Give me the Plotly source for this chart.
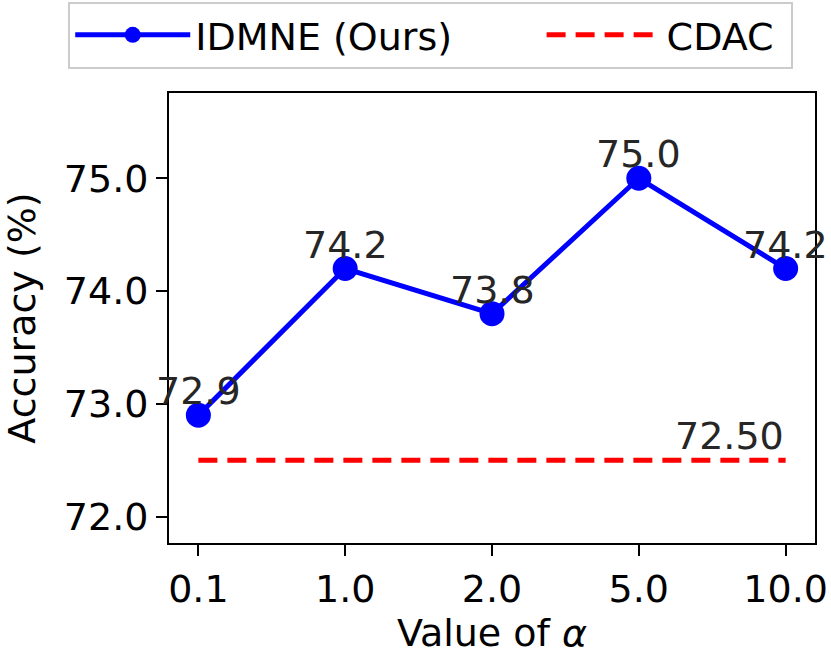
import plotly.graph_objects as go

alpha_labels = ["0.1", "1.0", "2.0", "5.0", "10.0"]
idmne_acc = [72.9, 74.2, 73.8, 75.0, 74.2]
cdac_acc = [72.5, 72.5, 72.5, 72.5, 72.5]
y_ticks = [72.0, 73.0, 74.0, 75.0]

FONT = "DejaVu Sans"
FS = 38

fig = go.Figure()
fig.add_trace(go.Scatter(
    x=alpha_labels, y=idmne_acc, mode="lines+markers",
    name="IDMNE (Ours)" + "&nbsp;" * 7,
    line=dict(color="#0000ff", width=5), marker=dict(color="#0000ff", size=25),
))
fig.add_trace(go.Scatter(
    x=alpha_labels, y=cdac_acc, mode="lines", name="CDAC&nbsp;",
    line=dict(color="#ff0000", width=5, dash="19px,10px"),
))

for i, v in enumerate(idmne_acc):
    fig.add_annotation(x=i, y=v, text=f"{v:.1f}", showarrow=False,
                       xanchor="center", yanchor="bottom",
                       font=dict(family=FONT, size=FS, color="#262626"))
fig.add_annotation(x=len(alpha_labels) - 1, y=cdac_acc[-1], text=f"{cdac_acc[-1]:.2f}",
                   showarrow=False, xanchor="right", yanchor="bottom",
                   font=dict(family=FONT, size=FS, color="#262626"))

axis_common = dict(showline=True, linecolor="black", linewidth=2, mirror=True,
                   ticks="outside", ticklen=11, tickwidth=2, tickcolor="black",
                   showgrid=False, zeroline=False, automargin=False,
                   tickfont=dict(family=FONT, size=FS, color="black"))

fig.update_layout(
    width=831, height=662,
    margin=dict(l=169, r=16, t=93, b=119, autoexpand=False),
    paper_bgcolor="white", plot_bgcolor="white",
    font=dict(family=FONT, size=FS, color="black"),
    xaxis=dict(type="category", range=[-0.2, 4.2],
               title=dict(text="Value of <i>α</i>", font=dict(family=FONT, size=FS), standoff=10),
               **axis_common),
    yaxis=dict(range=[71.767, 75.756], tickvals=y_ticks,
               ticktext=[f"{t:.1f}" for t in y_ticks],
               title=dict(text="Accuracy (%)", font=dict(family=FONT, size=FS), standoff=22),
               **axis_common),
    legend=dict(orientation="h", x=-0.156, y=1.203, xanchor="left", yanchor="top",
                bordercolor="#cccccc", borderwidth=2, bgcolor="white",
                font=dict(family=FONT, size=FS, color="black"),
                itemwidth=115),
    showlegend=True,
)

fig.write_html("out.html", config={"displayModeBar": False},
               post_script="document.body.style.margin='0px';document.body.style.overflow='hidden';")
